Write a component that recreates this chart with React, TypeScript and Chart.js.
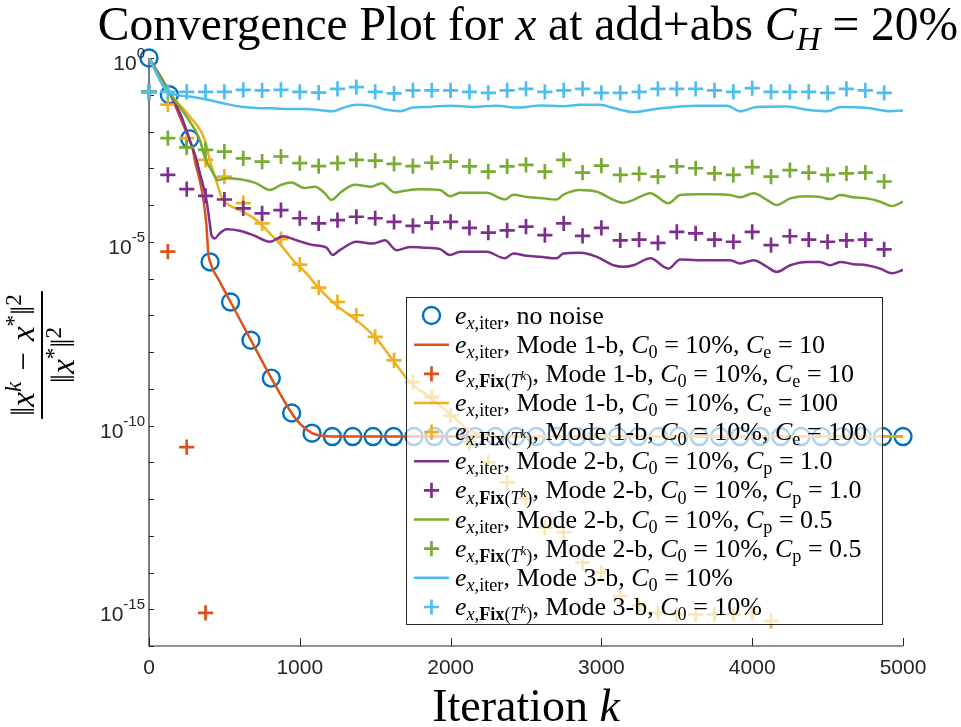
import { useEffect, useRef } from 'react';
import { Chart, registerables } from 'chart.js';

Chart.register(...registerables);

// ---------- data (values are log10 of the relative error) ----------
const FIX_ITER = [0, 125, 250, 375, 500, 625, 750, 875, 1000, 1125, 1250, 1375, 1500, 1625, 1750, 1875, 2000, 2125, 2250, 2375, 2500, 2625, 2750, 2875, 3000, 3125, 3250, 3375, 3500, 3625, 3750, 3875, 4000, 4125, 4250, 4375, 4500, 4625, 4750, 4875];

const NONOISE_ITER = [0, 135, 270, 405, 541, 676, 811, 946, 1081, 1216, 1351, 1486, 1622, 1757, 1892, 2027, 2162, 2297, 2432, 2568, 2703, 2838, 2973, 3108, 3243, 3378, 3514, 3649, 3784, 3919, 4054, 4189, 4324, 4459, 4595, 4730, 4865, 5000];
const NONOISE_ERR = [0, -1.0, -2.2, -5.55, -6.64, -7.68, -8.71, -9.66, -10.21, -10.3, -10.3, -10.3, -10.3, -10.3, -10.3, -10.3, -10.3, -10.3, -10.3, -10.3, -10.3, -10.3, -10.3, -10.3, -10.3, -10.3, -10.3, -10.3, -10.3, -10.3, -10.3, -10.3, -10.3, -10.3, -10.3, -10.3, -10.3, -10.3];

const M1E10_ITER = [0, 137, 204, 265, 291, 303, 350, 380, 393, 405, 470, 541, 676, 811, 946, 1000, 1081, 1150, 1216, 5000];
const M1E10_ERR = [0, -0.95, -1.59, -2.2, -2.5, -2.77, -3.6, -4.5, -5.3, -5.55, -6.09, -6.64, -7.68, -8.71, -9.66, -9.95, -10.21, -10.28, -10.3, -10.3];
const M1E10_FIX_ITER = [0, 125, 250, 375];
const M1E10_FIX_ERR = [-0.92, -5.27, -10.59, -15.1];

const M1E100_ITER = [0, 137, 270, 370, 403, 458, 480, 513, 602, 712, 801, 867, 955, 1044, 1122, 1243, 1376, 1498, 1619, 1730, 1863, 1995, 2128, 2200, 2283, 2400, 5000];
const M1E100_ERR = [0, -0.95, -1.59, -2.23, -2.77, -3.5, -3.77, -3.95, -4.14, -4.41, -4.77, -5.05, -5.5, -5.86, -6.25, -6.73, -7.14, -7.59, -8.23, -8.82, -9.23, -9.68, -10.14, -10.25, -10.3, -10.3, -10.3];
const M1E100_FIX_ITER = [0, 125, 250, 375, 500, 625, 750, 875, 1000, 1125, 1250, 1375, 1500, 1625, 1750, 1875, 2000, 2125, 2250, 2375, 2500, 2625, 2750, 2875, 3000, 3125, 3250, 3375, 3500, 3625, 3750, 3875, 4000, 4125];
const M1E100_FIX_ERR = [-0.92, -1.27, -2.18, -2.77, -3.23, -3.95, -4.5, -4.93, -5.62, -6.25, -6.64, -7.0, -7.59, -8.23, -8.82, -9.23, -9.73, -10.46, -11.0, -11.55, -11.98, -12.78, -12.91, -13.73, -14.0, -14.64, -14.91, -15.1, -15.14, -15.14, -15.14, -15.14, -15.1, -15.32];

const M2P10_ITER = [0, 137, 215, 270, 310, 337, 381, 403, 414, 436, 469, 514, 602, 690, 801, 889, 978, 1088, 1177, 1217, 1265, 1376, 1487, 1564, 1642, 1730, 1818, 1929, 1995, 2063, 2150, 2238, 2360, 2415, 2505, 2593, 2703, 2748, 2858, 2970, 3080, 3146, 3213, 3324, 3445, 3523, 3633, 3744, 3855, 3920, 4010, 4097, 4163, 4252, 4362, 4450, 4517, 4583, 4672, 4760, 4849, 4926, 5000];
const M2P10_ERR = [0, -0.95, -1.59, -2.23, -2.7, -3.13, -3.86, -4.5, -4.82, -4.91, -4.77, -4.66, -4.7, -4.82, -5.0, -4.85, -4.96, -5.09, -5.16, -5.36, -5.23, -5.0, -5.05, -4.96, -5.23, -5.14, -5.16, -5.2, -5.36, -5.27, -5.27, -5.27, -5.45, -5.32, -5.38, -5.41, -5.45, -5.32, -5.3, -5.41, -5.64, -5.68, -5.64, -5.45, -5.73, -5.48, -5.5, -5.5, -5.5, -5.59, -5.5, -5.68, -5.82, -5.64, -5.55, -5.55, -5.64, -5.55, -5.61, -5.64, -5.73, -5.86, -5.77];
const M2P10_FIX_ERR = [-0.92, -3.18, -3.57, -3.75, -3.85, -4.09, -4.23, -4.14, -4.36, -4.5, -4.41, -4.32, -4.36, -4.46, -4.57, -4.48, -4.46, -4.62, -4.75, -4.69, -4.59, -4.82, -4.5, -4.84, -4.62, -4.96, -4.94, -5.03, -4.73, -4.77, -4.94, -5.0, -4.73, -5.09, -4.85, -4.94, -5.0, -4.96, -4.94, -5.21];

const M2P05_ITER = [0, 137, 248, 337, 370, 425, 458, 514, 602, 712, 801, 878, 944, 1033, 1100, 1166, 1210, 1276, 1365, 1476, 1542, 1631, 1697, 1808, 1929, 1995, 2063, 2150, 2238, 2360, 2415, 2505, 2593, 2703, 2748, 2858, 2970, 3080, 3146, 3213, 3324, 3445, 3523, 3633, 3744, 3855, 3920, 4010, 4097, 4163, 4252, 4362, 4450, 4517, 4583, 4672, 4760, 4849, 4926, 5000];
const M2P05_ERR = [0, -0.95, -1.59, -2.23, -2.7, -3.13, -3.32, -3.27, -3.3, -3.41, -3.59, -3.45, -3.39, -3.54, -3.5, -3.68, -3.86, -3.64, -3.45, -3.5, -3.41, -3.66, -3.61, -3.57, -3.59, -3.76, -3.67, -3.67, -3.67, -3.85, -3.72, -3.78, -3.81, -3.85, -3.72, -3.59, -3.64, -3.86, -3.94, -3.86, -3.68, -3.95, -3.73, -3.71, -3.71, -3.73, -3.79, -3.68, -3.86, -4.0, -3.82, -3.76, -3.78, -3.84, -3.73, -3.79, -3.82, -3.91, -4.03, -3.91];
const M2P05_FIX_ERR = [-0.92, -2.18, -2.43, -2.5, -2.55, -2.73, -2.82, -2.68, -2.86, -2.94, -2.86, -2.77, -2.79, -2.88, -2.94, -2.85, -2.82, -2.95, -3.09, -2.95, -2.91, -3.09, -2.77, -3.12, -2.93, -3.18, -3.15, -3.23, -2.95, -3.0, -3.14, -3.18, -2.97, -3.23, -3.05, -3.12, -3.18, -3.14, -3.12, -3.36];

const M3_ITER = [0, 125, 270, 380, 490, 600, 710, 820, 930, 1040, 1110, 1220, 1285, 1376, 1484, 1575, 1665, 1750, 1860, 2000, 2150, 2300, 2450, 2600, 2750, 2860, 2990, 3080, 3210, 3370, 3520, 3635, 3835, 3920, 4030, 4230, 4365, 4500, 4585, 4765, 4915, 5000];
const M3_ERR = [0, -0.92, -1.05, -1.13, -1.23, -1.32, -1.36, -1.37, -1.39, -1.39, -1.41, -1.45, -1.36, -1.27, -1.31, -1.41, -1.45, -1.35, -1.33, -1.3, -1.33, -1.3, -1.35, -1.29, -1.31, -1.27, -1.27, -1.36, -1.47, -1.38, -1.32, -1.3, -1.3, -1.45, -1.33, -1.32, -1.41, -1.45, -1.33, -1.36, -1.45, -1.43];
const M3_FIX_ERR = [-0.92, -0.92, -0.92, -0.92, -0.92, -0.87, -0.88, -0.87, -0.92, -0.94, -0.84, -0.79, -0.92, -0.96, -0.88, -0.88, -0.88, -0.92, -0.95, -0.88, -0.84, -0.92, -0.88, -0.84, -0.95, -0.95, -0.92, -0.84, -0.84, -0.84, -0.88, -0.92, -0.82, -0.92, -0.92, -0.92, -0.95, -0.84, -0.88, -0.95];

const X_TICKS = [0, 1000, 2000, 3000, 4000, 5000];
const Y_TICK_EXP = [0, -1, -2, -3, -4, -5, -6, -7, -8, -9, -10, -11, -12, -13, -14, -15, -16];
const Y_LABEL_EXP = [0, -5, -10, -15];

const C_BLUE = '#0072BD';
const C_ORANGE = '#D95319';
const C_YELLOW = '#EDB120';
const C_PURPLE = '#7E2F8E';
const C_GREEN = '#77AC30';
const C_CYAN = '#4DBEEE';

// ---------- rich text helpers ----------
const SERIF = '"Liberation Serif", "DejaVu Serif", serif';
const SANS = '"Liberation Sans", Arial, sans-serif';
type Seg = [string, string, number]; // text, style r|i|b, level 0 base,1 sub,2 sup,3 sup-in-sub

function segFont(st: string, lv: number, size: number) {
  const s = lv === 0 ? size : lv === 3 ? size * 0.5 : size * 0.7;
  return `${st === 'i' ? 'italic ' : ''}${st === 'b' ? 'bold ' : ''}${s.toFixed(2)}px ${SERIF}`;
}
function segDy(lv: number, size: number) {
  if (lv === 1) return size * 0.2;
  if (lv === 2) return -size * 0.38;
  if (lv === 3) return size * 0.2 - size * 0.27;
  return 0;
}
function richWidth(ctx: CanvasRenderingContext2D, segs: Seg[], size: number) {
  let w = 0;
  for (const [t, st, lv] of segs) {
    ctx.font = segFont(st, lv, size);
    w += ctx.measureText(t).width;
  }
  return w;
}
function drawRich(ctx: CanvasRenderingContext2D, segs: Seg[], x: number, y: number, size: number, align = 'left') {
  const w = richWidth(ctx, segs, size);
  let cx = align === 'center' ? x - w / 2 : align === 'right' ? x - w : x;
  ctx.textAlign = 'left';
  ctx.textBaseline = 'alphabetic';
  for (const [t, st, lv] of segs) {
    ctx.font = segFont(st, lv, size);
    ctx.fillText(t, cx, y + segDy(lv, size));
    cx += ctx.measureText(t).width;
  }
  return w;
}

const TITLE: Seg[] = [['Convergence Plot for ', 'r', 0], ['x', 'i', 0], [' at add+abs ', 'r', 0], ['C', 'i', 0], ['H', 'i', 1], [' = 20%', 'r', 0]];
const XLABEL: Seg[] = [['Iteration ', 'r', 0], ['k', 'i', 0]];
const YNUM: Seg[] = [['‖', 'r', 0], ['x', 'i', 0], ['k', 'i', 2], ['\u2004−\u2004', 'r', 0], ['x', 'i', 0], ['*', 'r', 2], ['‖', 'r', 0], ['2', 'r', 2]];
const YDEN: Seg[] = [['‖', 'r', 0], ['x', 'i', 0], ['*', 'r', 2], ['‖', 'r', 0], ['2', 'r', 2]];

const SUB_ITER: Seg[] = [['x', 'i', 1], [',iter', 'r', 1]];
const SUB_FIX: Seg[] = [['x', 'i', 1], [',', 'r', 1], ['Fix', 'b', 1], ['(', 'r', 1], ['T', 'i', 1], ['k', 'i', 3], [')', 'r', 1]];
function legendSegs(kind: string, mode: string | null, param: string | null, value: string | null): Seg[] {
  const s: Seg[] = [['e', 'i', 0], ...(kind === 'iter' ? SUB_ITER : SUB_FIX), [', ', 'r', 0]];
  if (!mode) {
    s.push(['no noise', 'r', 0]);
    return s;
  }
  s.push([`Mode ${mode}, `, 'r', 0], ['C', 'i', 0], ['0', 'r', 1], [' = 10%', 'r', 0]);
  if (param) s.push([', ', 'r', 0], ['C', 'i', 0], [param, 'r', 1], [` = ${value}`, 'r', 0]);
  return s;
}

type Series = { kind: string; mark: string; color: string; iter: number[]; err: number[]; legend: Seg[] };
const SERIES: Series[] = [
  { kind: 'iter', mark: 'circle', color: C_BLUE, iter: NONOISE_ITER, err: NONOISE_ERR, legend: legendSegs('iter', null, null, null) },
  { kind: 'iter', mark: 'line', color: C_ORANGE, iter: M1E10_ITER, err: M1E10_ERR, legend: legendSegs('iter', '1-b', 'e', '10') },
  { kind: 'fix', mark: 'cross', color: C_ORANGE, iter: M1E10_FIX_ITER, err: M1E10_FIX_ERR, legend: legendSegs('fix', '1-b', 'e', '10') },
  { kind: 'iter', mark: 'line', color: C_YELLOW, iter: M1E100_ITER, err: M1E100_ERR, legend: legendSegs('iter', '1-b', 'e', '100') },
  { kind: 'fix', mark: 'cross', color: C_YELLOW, iter: M1E100_FIX_ITER, err: M1E100_FIX_ERR, legend: legendSegs('fix', '1-b', 'e', '100') },
  { kind: 'iter', mark: 'line', color: C_PURPLE, iter: M2P10_ITER, err: M2P10_ERR, legend: legendSegs('iter', '2-b', 'p', '1.0') },
  { kind: 'fix', mark: 'cross', color: C_PURPLE, iter: FIX_ITER, err: M2P10_FIX_ERR, legend: legendSegs('fix', '2-b', 'p', '1.0') },
  { kind: 'iter', mark: 'line', color: C_GREEN, iter: M2P05_ITER, err: M2P05_ERR, legend: legendSegs('iter', '2-b', 'p', '0.5') },
  { kind: 'fix', mark: 'cross', color: C_GREEN, iter: FIX_ITER, err: M2P05_FIX_ERR, legend: legendSegs('fix', '2-b', 'p', '0.5') },
  { kind: 'iter', mark: 'line', color: C_CYAN, iter: M3_ITER, err: M3_ERR, legend: legendSegs('iter', '3-b', null, null) },
  { kind: 'fix', mark: 'cross', color: C_CYAN, iter: FIX_ITER, err: M3_FIX_ERR, legend: legendSegs('fix', '3-b', null, null) },
];

const CIRCLE_R = 8.5;
const CROSS_R = 7.6;
const LINE_W = 2.5;

function makeDatasets() {
  return SERIES.map((s, i) => {
    const data = s.iter.map((k, j) => ({ x: k, y: Math.pow(10, s.err[j]) }));
    if (s.mark === 'line') {
      return {
        data, order: -i, borderColor: s.color, borderWidth: LINE_W, pointRadius: 0, fill: false,
        cubicInterpolationMode: 'monotone', showLine: true,
      };
    }
    return {
      data, order: -i, showLine: false, borderColor: s.color,
      pointStyle: s.mark === 'circle' ? 'circle' : 'cross',
      pointRadius: s.mark === 'circle' ? CIRCLE_R : CROSS_R,
      pointBorderWidth: s.mark === 'circle' ? 2.4 : 2.7,
      pointBorderColor: s.color, pointBackgroundColor: 'rgba(0,0,0,0)', clip: false,
    };
  });
}

const AXIS = '#262626';

const decor = {
  id: 'decor',
  beforeDatasetsDraw(chart: any) {
    const { ctx, chartArea: a, scales } = chart;
    ctx.save();
    ctx.strokeStyle = AXIS;
    ctx.lineWidth = 1.2;
    ctx.beginPath();
    ctx.moveTo(a.left, a.top);
    ctx.lineTo(a.left, a.bottom);
    ctx.lineTo(a.right, a.bottom);
    ctx.stroke();
    ctx.lineWidth = 1;
    ctx.beginPath();
    for (const t of X_TICKS) {
      const px = Math.round(scales.x.getPixelForValue(t)) + 0.5;
      ctx.moveTo(px, a.bottom);
      ctx.lineTo(px, a.bottom - 8);
    }
    for (const e of Y_TICK_EXP) {
      const py = Math.round(scales.y.getPixelForValue(Math.pow(10, e))) + 0.5;
      ctx.moveTo(a.left, py);
      ctx.lineTo(a.left + 5, py);
    }
    ctx.stroke();
    ctx.restore();
  },
  afterDatasetsDraw(chart: any) {
    const { ctx } = chart;
    const L = 406.5, T = 297.5, R = 882.5, B = 624.5;
    ctx.save();
    ctx.fillStyle = 'rgba(255,255,255,0.68)';
    ctx.fillRect(L, T, R - L, B - T);
    ctx.strokeStyle = AXIS;
    ctx.lineWidth = 1;
    ctx.strokeRect(L, T, R - L, B - T);
    SERIES.forEach((s, i) => {
      const cy = 315.5 + i * 29.15;
      const sx = 431.5;
      ctx.strokeStyle = s.color;
      if (s.mark === 'line') {
        ctx.lineWidth = LINE_W;
        ctx.beginPath();
        ctx.moveTo(414, cy);
        ctx.lineTo(449, cy);
        ctx.stroke();
      } else if (s.mark === 'circle') {
        ctx.lineWidth = 2.4;
        ctx.beginPath();
        ctx.arc(sx, cy, CIRCLE_R, 0, Math.PI * 2);
        ctx.stroke();
      } else {
        ctx.lineWidth = 2.7;
        ctx.beginPath();
        ctx.moveTo(sx - CROSS_R, cy);
        ctx.lineTo(sx + CROSS_R, cy);
        ctx.moveTo(sx, cy - CROSS_R);
        ctx.lineTo(sx, cy + CROSS_R);
        ctx.stroke();
      }
      ctx.fillStyle = '#000';
      drawRich(ctx, s.legend, 455, cy + 8, 26);
    });
    ctx.restore();
  },
  afterDraw(chart: any) {
    const { ctx, chartArea: a, scales } = chart;
    ctx.save();
    // x tick labels
    ctx.fillStyle = AXIS;
    ctx.font = `21px ${SANS}`;
    ctx.textAlign = 'center';
    ctx.textBaseline = 'top';
    for (const t of X_TICKS) {
      ctx.fillText(String(t), scales.x.getPixelForValue(t), a.bottom + 12);
    }
    // y tick labels 10^e
    for (const e of Y_LABEL_EXP) {
      const py = scales.y.getPixelForValue(Math.pow(10, e));
      ctx.textBaseline = 'alphabetic';
      ctx.textAlign = 'right';
      ctx.font = `15px ${SANS}`;
      const ex = String(e);
      const ew = ctx.measureText(ex).width;
      const right = a.left - 4;
      ctx.fillText(ex, right, py);
      ctx.font = `21px ${SANS}`;
      ctx.fillText('10', right - ew, py + 12);
    }
    // title
    ctx.fillStyle = '#000';
    drawRich(ctx, TITLE, (a.left + a.right) / 2 + 2, 40, 47.5, 'center');
    // x label
    drawRich(ctx, XLABEL, (a.left + a.right) / 2, 721, 46, 'center');
    // y label fraction (rotated)
    ctx.translate(42, (a.top + a.bottom) / 2 + 3);
    ctx.rotate(-Math.PI / 2);
    const fs = 33;
    const nw = richWidth(ctx, YNUM, fs);
    const dw = richWidth(ctx, YDEN, fs);
    const bw = Math.max(nw, dw) + 6;
    drawRich(ctx, YNUM, 0, -8, fs, 'center');
    drawRich(ctx, YDEN, 0, 32, fs, 'center');
    ctx.fillRect(-bw / 2, -1, bw, 2);
    ctx.restore();
  },
};

export default function App() {
  const ref = useRef<HTMLCanvasElement>(null);
  useEffect(() => {
    const canvas = ref.current;
    if (!canvas) return;
    const chart = new Chart(canvas, {
      type: 'line',
      data: { datasets: makeDatasets() as any },
      options: {
        responsive: false,
        animation: false,
        devicePixelRatio: 1,
        events: [],
        layout: { padding: { left: 149, right: 58, top: 58, bottom: 81 } },
        plugins: { legend: { display: false }, tooltip: { enabled: false }, title: { display: false } },
        scales: {
          x: { type: 'linear', min: 0, max: 5000, grid: { display: false, drawTicks: false }, border: { display: false }, ticks: { display: false } },
          y: { type: 'logarithmic', min: 1e-16, max: 1, grid: { display: false, drawTicks: false }, border: { display: false }, ticks: { display: false } },
        },
      } as any,
      plugins: [decor],
    });
    return () => chart.destroy();
  }, []);
  return (
    <div style={{ position: 'fixed', left: 0, top: 0, width: 961, height: 727, background: '#fff' }}>
      <canvas ref={ref} width={961} height={727} style={{ display: 'block', width: 961, height: 727 }} />
    </div>
  );
}
